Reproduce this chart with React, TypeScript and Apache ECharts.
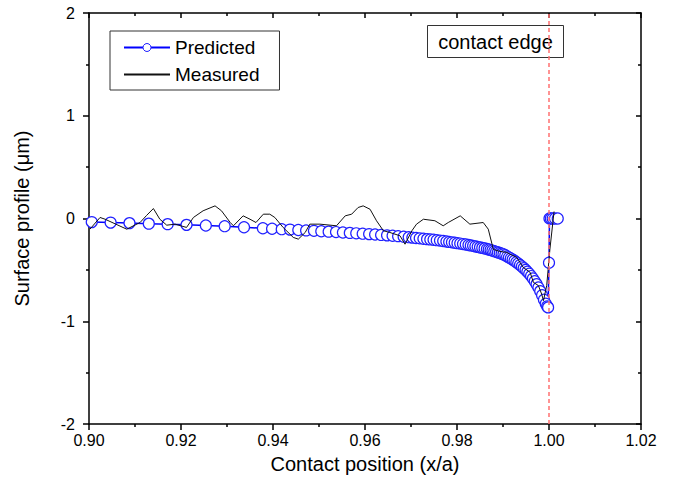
import React, { useEffect, useRef } from "react";
import * as echarts from "echarts";

const xTicks = [0.9, 0.92, 0.94, 0.96, 0.98, 1.0, 1.02];
const yTicks = [-2, -1, 0, 1, 2];
const contactEdge = 1.0;
const legendNames = ["Predicted", "Measured"];
const xAxisTitle = "Contact position (x/a)";
const yAxisTitle = "Surface profile (\u03bcm)";
const noteText = "contact edge";

const predX = [
  0.9006, 0.9047, 0.9088, 0.913, 0.9171, 0.9212, 0.9254, 0.9295, 0.9337, 0.9378,
  0.9398, 0.9419, 0.9437, 0.9455, 0.9472, 0.9489, 0.9505, 0.9521, 0.9537, 0.9552,
  0.9567, 0.9581, 0.9595, 0.9609, 0.9622, 0.9635, 0.9648, 0.966, 0.9672, 0.9684,
  0.9695, 0.9703, 0.9711, 0.9719, 0.9727, 0.9735, 0.9742, 0.9749, 0.9756, 0.9763,
  0.977, 0.9777, 0.9783, 0.9789, 0.9795, 0.9801, 0.9807, 0.9813, 0.9819, 0.9825,
  0.983, 0.9835, 0.984, 0.9845, 0.985, 0.9855, 0.986, 0.9865, 0.9869, 0.9873,
  0.9877, 0.9881, 0.9885, 0.9889, 0.9893, 0.9897, 0.9901, 0.9905, 0.9909, 0.9913,
  0.9917, 0.9921, 0.9925, 0.9929, 0.9933, 0.9937, 0.9941, 0.9945, 0.9949, 0.9953,
  0.9957, 0.9961, 0.9965, 0.9969, 0.9973, 0.9977, 0.9981, 0.9985, 0.9989, 0.9993,
  0.9996, 0.9998, 1.0, 1.0001, 1.0004, 1.0008, 1.0013, 1.0019,
];
const predY = [
  -0.035, -0.04, -0.045, -0.05, -0.055, -0.062, -0.068, -0.075, -0.085, -0.095,
  -0.1, -0.104, -0.108, -0.112, -0.116, -0.12, -0.124, -0.128, -0.132, -0.136,
  -0.14, -0.144, -0.148, -0.152, -0.156, -0.16, -0.164, -0.168, -0.172, -0.177,
  -0.182, -0.186, -0.19, -0.193, -0.197, -0.201, -0.204, -0.207, -0.211, -0.215,
  -0.219, -0.224, -0.228, -0.232, -0.236, -0.24, -0.244, -0.249, -0.253, -0.258,
  -0.262, -0.266, -0.271, -0.276, -0.281, -0.286, -0.291, -0.297, -0.302, -0.307,
  -0.312, -0.318, -0.324, -0.33, -0.336, -0.342, -0.349, -0.357, -0.37, -0.379,
  -0.389, -0.4, -0.412, -0.425, -0.438, -0.452, -0.467, -0.483, -0.5, -0.518,
  -0.538, -0.56, -0.584, -0.61, -0.639, -0.671, -0.707, -0.747, -0.79, -0.83,
  -0.855, -0.865, -0.43, 0.0, 0.0, 0.0, 0.0, 0.0,
];

const measX = [
  0.9002, 0.9024, 0.9035, 0.9082, 0.9111, 0.9125, 0.914, 0.9154, 0.9169, 0.9187,
  0.9212, 0.9227, 0.9248, 0.9274, 0.9288, 0.9307, 0.9314, 0.9335, 0.935, 0.9363,
  0.9379, 0.9393, 0.9404, 0.9422, 0.9444, 0.9455, 0.947, 0.948, 0.9502, 0.9538,
  0.9557, 0.9571, 0.9585, 0.9596, 0.9611, 0.9625, 0.964, 0.9654, 0.9676, 0.9687,
  0.9702, 0.9712, 0.9727, 0.9752, 0.977, 0.9781, 0.9807, 0.9828, 0.9857, 0.9868,
  0.9879, 0.9893, 0.9908, 0.9915, 0.993, 0.9944, 0.9959, 0.9966, 0.9977, 0.9984,
  0.9988, 0.9995, 1.0002, 1.0011,
];
const measY = [
  -0.104, 0.01, -0.007, -0.104, -0.039, 0.029, 0.097, -0.007, -0.065, -0.055,
  -0.087, 0.01, 0.075, 0.123, 0.075, -0.039, -0.071, 0.026, -0.007, -0.039,
  0.042, 0.042, 0.01, -0.087, -0.184, -0.201, -0.136, -0.055, -0.055, -0.071,
  0.026, 0.042, 0.107, 0.123, 0.09, -0.022, -0.119, -0.136, -0.168, -0.25,
  -0.119, -0.055, -0.007, -0.022, -0.071, -0.039, 0.026, -0.055, -0.039, -0.104,
  -0.301, -0.32, -0.33, -0.347, -0.379, -0.476, -0.524, -0.621, -0.653, -0.735,
  -0.799, -0.653, -0.298, 0.068,
];

const FONT = "'Liberation Sans', Arial, sans-serif";

export default function App() {
  const ref = useRef<HTMLDivElement>(null);
  useEffect(() => {
    if (!ref.current) return;
    const chart = echarts.init(ref.current, null, { renderer: "svg" });
    const predicted = predX.map((x, i) => [x, predY[i]]);
    const measured = measX.map((x, i) => [x, measY[i]]);
    const axisLine = { show: true, onZero: false, lineStyle: { color: "#000", width: 1.5 } };
    const xMin = xTicks[0];
    const xMax = xTicks[xTicks.length - 1];
    const yMin = yTicks[0];
    const yMax = yTicks[yTicks.length - 1];
    chart.setOption({
      animation: false,
      backgroundColor: "#fff",
      textStyle: { fontFamily: FONT, color: "#000" },
      grid: { left: 89, right: 33, top: 13, bottom: 62 },
      legend: {
        data: [
          { name: legendNames[0], itemStyle: { borderWidth: 1 } },
          { name: legendNames[1], itemStyle: { opacity: 0 } },
        ],
        orient: "vertical",
        left: 110,
        top: 31,
        itemWidth: 46,
        itemHeight: 10,
        itemGap: 8,
        padding: [7, 20, 6, 13],
        borderColor: "#333",
        borderWidth: 1,
        backgroundColor: "#fff",
        textStyle: { fontSize: 19, color: "#000", fontFamily: FONT },
      },
      xAxis: [
        {
          type: "value",
          min: xMin,
          max: xMax,
          interval: 0.02,
          position: "bottom",
          name: xAxisTitle,
          nameLocation: "middle",
          nameGap: 30,
          nameTextStyle: { fontSize: 20, color: "#000", fontFamily: FONT },
          axisLine,
          axisTick: { show: true, inside: false, length: 6, lineStyle: { color: "#000", width: 1.5 } },
          minorTick: { show: true, splitNumber: 2, length: 3, lineStyle: { color: "#000", width: 1.5 } },
          axisLabel: {
            fontSize: 16,
            color: "#000",
            margin: 8,
            fontFamily: FONT,
            formatter: (v: number) => v.toFixed(2),
          },
          splitLine: { show: false },
        },
        {
          type: "value",
          min: xMin,
          max: xMax,
          interval: 0.02,
          position: "top",
          axisLine,
          axisTick: { show: true, inside: true, length: 5, lineStyle: { color: "#000", width: 1.5 } },
          minorTick: { show: true, splitNumber: 2, length: 3, lineStyle: { color: "#000", width: 1.5 } },
          axisLabel: { show: false },
          splitLine: { show: false },
        },
      ],
      yAxis: [
        {
          type: "value",
          min: yMin,
          max: yMax,
          interval: 1,
          position: "left",
          name: yAxisTitle,
          nameLocation: "middle",
          nameGap: 57,
          nameTextStyle: { fontSize: 20, color: "#000", fontFamily: FONT },
          axisLine,
          axisTick: { show: true, inside: false, length: 6, lineStyle: { color: "#000", width: 1.5 } },
          minorTick: { show: true, splitNumber: 2, length: 3, lineStyle: { color: "#000", width: 1.5 } },
          axisLabel: { fontSize: 16, color: "#000", margin: 14, fontFamily: FONT },
          splitLine: { show: false },
        },
        {
          type: "value",
          min: yMin,
          max: yMax,
          interval: 1,
          position: "right",
          axisLine,
          axisTick: { show: true, inside: true, length: 5, lineStyle: { color: "#000", width: 1.5 } },
          minorTick: { show: true, splitNumber: 2, length: 3, lineStyle: { color: "#000", width: 1.5 } },
          axisLabel: { show: false },
          splitLine: { show: false },
        },
      ],
      series: [
        {
          name: legendNames[0],
          type: "line",
          data: predicted,
          symbol: "circle",
          symbolSize: 11,
          showSymbol: true,
          showAllSymbol: true,
          lineStyle: { color: "#0000ff", width: 1.5 },
          itemStyle: { color: "#fff", borderColor: "#2020ff", borderWidth: 1.2 },
          z: 2,
          markLine: {
            silent: true,
            symbol: "none",
            label: { show: false },
            lineStyle: { color: "#ff7070", width: 1.5, type: [4, 3] },
            data: [{ xAxis: contactEdge }],
          },
        },
        {
          name: legendNames[1],
          type: "line",
          data: measured,
          symbol: "none",
          lineStyle: { color: "#111", width: 1 },
          itemStyle: { color: "#111" },
          z: 3,
        },
      ],
      graphic: [
        {
          type: "group",
          left: 427,
          top: 25,
          z: 100,
          children: [
            {
              type: "rect",
              shape: { x: 0, y: 0, width: 136, height: 32 },
              style: { fill: "#fff", stroke: "#333", lineWidth: 1 },
            },
            {
              type: "text",
              x: 68,
              y: 16,
              style: {
                text: noteText,
                fontSize: 20,
                fontFamily: FONT,
                fill: "#000",
                align: "center",
                verticalAlign: "middle",
              },
            },
          ],
        },
      ],
    });
    return () => chart.dispose();
  }, []);
  return <div ref={ref} style={{ width: 674, height: 486, position: "absolute", left: 0, top: 0 }} />;
}
